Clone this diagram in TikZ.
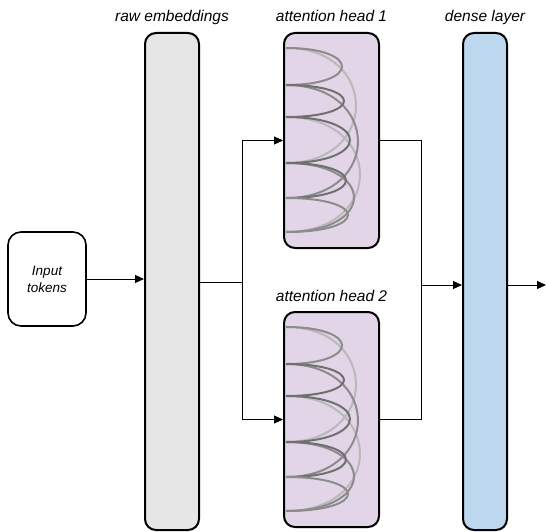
\documentclass[tikz,border=0pt]{standalone}
\usepackage{fontspec}
\setmainfont{Liberation Sans}
\usetikzlibrary{arrows.meta,calc}
\definecolor{embfill}{HTML}{E6E6E6}
\definecolor{headfill}{HTML}{E1D5E7}
\definecolor{densefill}{HTML}{BDD7EE}
\definecolor{linkdark}{RGB}{112,112,112}
\definecolor{linkmid}{RGB}{140,140,140}
\definecolor{linklight}{RGB}{185,185,185}
\tikzset{
  block/.style={draw=black, line width=2pt, rounded corners=11pt, inner sep=0pt},
  layerlabel/.style={font=\itshape\fontsize{15.5}{18}\selectfont, anchor=base},
  conn/.style={draw=black, line width=1pt},
  arrowconn/.style={conn, -{Triangle[length=9pt,width=8pt]}},
  link/.style={line width=2pt},
}
% one attention pattern: arcs between token positions on the left edge
\newcommand{\attnarcs}[2]{%
  \foreach \ya/\yb/\ext/\col in {15/130/70/linklight, 84/199/74/linklight,
      52/165/72/linkmid, 130/199/68/linkmid, 15/52/56/linkmid,
      52/84/58/linkdark, 84/130/64/linkdark, 130/165/60/linkdark, 165/199/62/linkmid}{
    \draw[link, draw=\col] (#1,#2+\ya) .. controls ++(1.333*\ext,0) and ($(#1,#2+\yb)+(1.333*\ext,0)$) .. (#1,#2+\yb);
  }%
}
\begin{document}
\begin{tikzpicture}[x=1pt,y=-1pt]
\useasboundingbox (0,0) rectangle (546,532);

% blocks
\node[block, fill=white, minimum width=78pt, minimum height=94pt, line width=1.6pt, rounded corners=13pt,
      align=center, font=\itshape\fontsize{13.5}{17}\selectfont] (inp) at (47,279) {Input\\tokens};
\node[block, fill=embfill, minimum width=54pt, minimum height=497pt] (raw) at (172,281.5) {};
\node[block, fill=headfill, minimum width=95pt, minimum height=215pt] (h1) at (331.5,140.5) {};
\node[block, fill=headfill, minimum width=95pt, minimum height=215pt] (h2) at (331.5,419.5) {};
\node[block, fill=densefill, minimum width=44pt, minimum height=497pt] (dense) at (485,281.5) {};

% attention links inside each head
\attnarcs{286}{33}
\attnarcs{286}{312}

% labels
\node[layerlabel] (lraw) at (172,22) {raw embeddings};
\node[layerlabel] (lh1) at (331.5,22) {attention head 1};
\node[layerlabel] (lh2) at (331.5,301) {attention head 2};
\node[layerlabel] (ldense) at (485,22) {dense layer};

% connectors
\coordinate (split) at (242,282);
\coordinate (merge) at (421,285);
\coordinate (out) at (546,285);
\draw[arrowconn] (inp.east) -- (inp.east -| raw.west);
\draw[conn] (split -| raw.east) -- (split);
\draw[arrowconn] (split) |- (h1.west);
\draw[arrowconn] (split) |- (h2.west);
\draw[conn] (h1.east) -| (merge);
\draw[conn] (h2.east) -| (merge);
\draw[arrowconn] (merge) -- (merge -| dense.west);
\draw[arrowconn] (merge -| dense.east) -- (out);
\end{tikzpicture}
\end{document}
